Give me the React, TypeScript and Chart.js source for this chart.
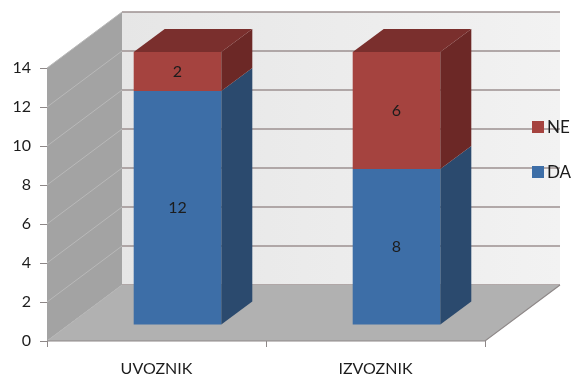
import { useEffect, useRef } from "react";
import { Chart, registerables } from "chart.js";

Chart.register(...registerables);

const categories = ["UVOZNIK", "IZVOZNIK"];
const daValues = [12, 8];
const neValues = [2, 6];
const yMin = 0;
const yMax = 14;
const yStep = 2;

const FONT = "Lato, 'Open Sans', sans-serif";
const TEXT = "#1c1c1c";

// depth of the chart box (front plane -> back wall)
const BOX_DX = 75;
const BOX_DY = -56;
// front face of the bars sits a little behind the front plane
const BAR_DX = 21;
const BAR_DY = -16;
// depth of each bar
const BAR_DEPTH_X = 31;
const BAR_DEPTH_Y = -23;

const colors = {
  da: { front: "#3d6ea7", side: "#2b4a6e", top: "#4a7bb3" },
  ne: { front: "#a5433f", side: "#6c2826", top: "#7a2f2d" },
};

const poly = (ctx: CanvasRenderingContext2D, pts: number[][], fill: string) => {
  ctx.beginPath();
  ctx.moveTo(pts[0][0], pts[0][1]);
  for (let i = 1; i < pts.length; i++) ctx.lineTo(pts[i][0], pts[i][1]);
  ctx.closePath();
  ctx.fillStyle = fill;
  ctx.fill();
};

const boxPlugin = {
  id: "box3d",
  beforeDraw(chart: any) {
    const { ctx, chartArea } = chart;
    const ys = chart.scales.y;
    const xL = chartArea.left;
    const xR = chartArea.right;
    const y0 = ys.getPixelForValue(yMin);
    const yT = ys.getPixelForValue(yMax);
    ctx.save();
    // back wall
    const g = ctx.createLinearGradient(xL + BOX_DX, 0, xR + BOX_DX, 0);
    g.addColorStop(0, "#e6e6e6");
    g.addColorStop(1, "#f2f2f2");
    ctx.fillStyle = g;
    ctx.fillRect(xL + BOX_DX, yT + BOX_DY, xR - xL, y0 - yT);
    // side wall
    poly(ctx, [[xL, y0], [xL, yT], [xL + BOX_DX, yT + BOX_DY], [xL + BOX_DX, y0 + BOX_DY]], "#a3a3a3");
    // grid lines on back and side walls
    for (let v = yMin; v <= yMax; v += yStep) {
      const py = ys.getPixelForValue(v);
      ctx.strokeStyle = "#9c9090";
      ctx.lineWidth = 1.6;
      ctx.beginPath();
      ctx.moveTo(xL + BOX_DX, py + BOX_DY);
      ctx.lineTo(xR + BOX_DX, py + BOX_DY);
      ctx.stroke();
      ctx.strokeStyle = "#b9b9b9";
      ctx.lineWidth = 1;
      ctx.beginPath();
      ctx.moveTo(xL, py);
      ctx.lineTo(xL + BOX_DX, py + BOX_DY);
      ctx.stroke();
    }
    // floor
    poly(ctx, [[xL, y0], [xR, y0], [xR + BOX_DX, y0 + BOX_DY], [xL + BOX_DX, y0 + BOX_DY]], "#b1b1b1");
    ctx.strokeStyle = "#8e8888";
    ctx.lineWidth = 1.2;
    ctx.beginPath();
    ctx.moveTo(xL, y0);
    ctx.lineTo(xR, y0);
    ctx.lineTo(xR + BOX_DX, y0 + BOX_DY);
    ctx.stroke();
    ctx.restore();
  },
  beforeDatasetsDraw(chart: any) {
    chart.ctx.save();
    chart.ctx.translate(BAR_DX, BAR_DY);
  },
  afterDatasetsDraw(chart: any) {
    const { ctx } = chart;
    ctx.restore();
    ctx.save();
    const n = chart.data.datasets.length;
    chart.data.datasets.forEach((ds: any, di: number) => {
      const meta = chart.getDatasetMeta(di);
      const pal = di === 0 ? colors.da : colors.ne;
      meta.data.forEach((el: any, i: number) => {
        const { x, y, base, width } = el.getProps(["x", "y", "base", "width"], true);
        const l = x - width / 2 + BAR_DX;
        const r = x + width / 2 + BAR_DX;
        const t = y + BAR_DY;
        const b = base + BAR_DY;
        // right side face
        poly(ctx, [[r, t], [r + BAR_DEPTH_X, t + BAR_DEPTH_Y], [r + BAR_DEPTH_X, b + BAR_DEPTH_Y], [r, b]], pal.side);
        // top face of the stack
        if (di === n - 1) {
          poly(ctx, [[l, t], [l + BAR_DEPTH_X, t + BAR_DEPTH_Y], [r + BAR_DEPTH_X, t + BAR_DEPTH_Y], [r, t]], pal.top);
        }
        // value label on the front face
        ctx.fillStyle = TEXT;
        ctx.font = `16px ${FONT}`;
        ctx.textAlign = "center";
        ctx.textBaseline = "middle";
        ctx.fillText(String(ds.data[i]), (l + r) / 2, (t + b) / 2);
      });
    });
    ctx.restore();
  },
  afterDraw(chart: any) {
    const { ctx } = chart;
    ctx.save();
    const items = [
      { label: "NE", color: colors.ne.front, y: 127 },
      { label: "DA", color: colors.da.front, y: 172 },
    ];
    ctx.font = `17px ${FONT}`;
    ctx.textAlign = "left";
    ctx.textBaseline = "middle";
    items.forEach((it) => {
      ctx.fillStyle = it.color;
      ctx.fillRect(532, it.y - 6, 12, 12);
      ctx.fillStyle = TEXT;
      ctx.fillText(it.label, 547, it.y + 1);
    });
    ctx.restore();
  },
};

export default function App() {
  const ref = useRef<HTMLCanvasElement>(null);

  useEffect(() => {
    if (!ref.current) return;
    const chart = new Chart(ref.current, {
      type: "bar",
      data: {
        labels: categories,
        datasets: [
          { label: "DA", data: daValues, backgroundColor: colors.da.front, clip: false as any },
          { label: "NE", data: neValues, backgroundColor: colors.ne.front, clip: false as any },
        ],
      },
      options: {
        animation: false,
        responsive: true,
        maintainAspectRatio: false,
        layout: { padding: { left: 0, top: 68, right: 91, bottom: 0 } },
        datasets: { bar: { barPercentage: 0.4, categoryPercentage: 1 } },
        plugins: { legend: { display: false }, tooltip: { enabled: false } },
        scales: {
          x: {
            stacked: true,
            border: { display: false },
            grid: { drawOnChartArea: false, drawTicks: true, tickLength: 6, color: "#8e8888" },
            ticks: { color: TEXT, font: { family: FONT, size: 16 }, padding: 12 },
            afterFit: (s: any) => { s.height = 37; },
          },
          y: {
            stacked: true,
            min: yMin,
            max: yMax,
            border: { display: false },
            grid: { drawOnChartArea: false, drawTicks: true, tickLength: 7, color: "#8e8888" },
            ticks: { stepSize: yStep, color: TEXT, font: { family: FONT, size: 16 }, padding: 9 },
            afterFit: (s: any) => { s.width = 47; },
          },
        },
      },
      plugins: [boxPlugin],
    });
    return () => chart.destroy();
  }, []);

  return (
    <div style={{ position: "fixed", left: 0, top: 0, width: 576, height: 378, background: "#ffffff" }}>
      <canvas ref={ref} />
    </div>
  );
}
